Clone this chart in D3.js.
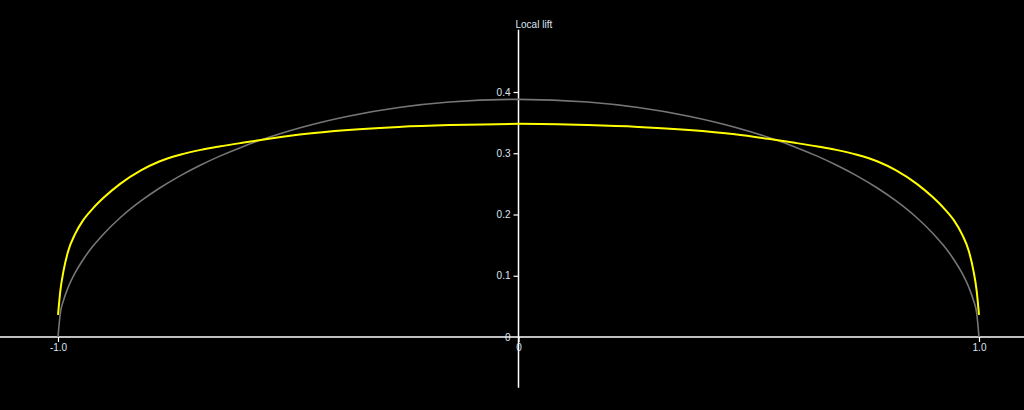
<!DOCTYPE html>
<html>
<head>
<meta charset="utf-8">
<script src="https://cdn.jsdelivr.net/npm/d3@7"></script>
<style>
  html, body { margin: 0; padding: 0; background: #000; }
  svg { display: block; }
  text { font-family: "Liberation Sans", Arial, sans-serif; }
</style>
</head>
<body>
<svg id="chart" width="1024" height="410"></svg>
<script>
// ---- data ----
const spanPositions = [-1, -0.995, -0.988, -0.978, -0.963, -0.946, -0.924, -0.9, -0.865, -0.82, -0.78, -0.735, -0.69, -0.65, -0.6, -0.56, -0.47, -0.37, -0.26, -0.15, 0,
  0.15, 0.26, 0.37, 0.47, 0.56, 0.6, 0.65, 0.69, 0.735, 0.78, 0.82, 0.865, 0.9, 0.924, 0.946, 0.963, 0.978, 0.988, 0.995, 1];
const ellipticLift = [0, 0.0388, 0.0599, 0.0809, 0.1046, 0.1258, 0.1484, 0.1691, 0.1947, 0.2221, 0.2428, 0.2631, 0.2808, 0.2949, 0.3104, 0.3215, 0.3425, 0.3605, 0.3747, 0.3836, 0.388,
  0.3836, 0.3747, 0.3605, 0.3425, 0.3215, 0.3104, 0.2949, 0.2808, 0.2631, 0.2428, 0.2221, 0.1947, 0.1691, 0.1484, 0.1258, 0.1046, 0.0809, 0.0599, 0.0388, 0];
const localLift = [0.036, 0.075, 0.108, 0.140, 0.168, 0.190, 0.210, 0.228, 0.250, 0.272, 0.2865, 0.2975, 0.3055, 0.311, 0.317, 0.3215, 0.331, 0.338, 0.343, 0.346, 0.348,
  0.346, 0.343, 0.338, 0.331, 0.3215, 0.317, 0.311, 0.3055, 0.2975, 0.2865, 0.272, 0.250, 0.228, 0.210, 0.190, 0.168, 0.140, 0.108, 0.075, 0.036];
const xTickValues = [-1, 0, 1];
const xTickLabels = ["-1.0", "0", "1.0"];
const yTickValues = [0, 0.1, 0.2, 0.3, 0.4];
const yTickLabels = ["0", "0.1", "0.2", "0.3", "0.4"];
const yAxisTitle = "Local lift";

// ---- layout ----
const svg = d3.select("#chart");
const W = 1024, H = 410;
svg.append("rect").attr("width", W).attr("height", H).attr("fill", "#000");

const x = d3.scaleLinear().domain([-1, 1]).range([58, 979]);
const y = d3.scaleLinear().domain([0, 0.4]).range([337, 92]);
const textColor = "#dce6f2";

// axis lines
svg.append("line")
  .attr("x1", 0).attr("x2", W).attr("y1", y(0)).attr("y2", y(0))
  .attr("stroke", "#fff").attr("stroke-width", 1.5);
svg.append("line")
  .attr("x1", x(0)).attr("x2", x(0)).attr("y1", y(0.5015)).attr("y2", y(-0.083))
  .attr("stroke", "#fff").attr("stroke-width", 1.5);

// x axis
const xAxis = d3.axisBottom(x).tickValues(xTickValues)
  .tickFormat((d, i) => xTickLabels[i]).tickSize(5).tickPadding(2);
const gx = svg.append("g").attr("transform", `translate(0,${y(0)})`).call(xAxis);
gx.select(".domain").remove();
gx.selectAll(".tick line").attr("stroke", "#fff").attr("stroke-width", 1.2);
gx.selectAll(".tick text").attr("fill", textColor).attr("font-size", 10)
  .attr("font-family", "'Liberation Sans', Arial, sans-serif");

// y axis
const yAxis = d3.axisLeft(y).tickValues(yTickValues)
  .tickFormat((d, i) => yTickLabels[i]).tickSize(5).tickPadding(3);
const gy = svg.append("g").attr("transform", `translate(${x(0)},0)`).call(yAxis);
gy.select(".domain").remove();
gy.selectAll(".tick line").attr("stroke", "#fff").attr("stroke-width", 1.2);
gy.selectAll(".tick text").attr("fill", textColor).attr("font-size", 10)
  .attr("font-family", "'Liberation Sans', Arial, sans-serif");
gy.selectAll(".tick").filter(d => d === 0).select("line").remove();

// axis title
svg.append("text")
  .attr("x", x(0) - 3).attr("y", 28)
  .attr("fill", textColor).attr("font-size", 10)
  .text(yAxisTitle);

// curves
const line = (vals) => d3.line()
  .x((d, i) => x(spanPositions[i]))
  .y(d => y(d))
  .curve(d3.curveMonotoneX)(vals);

svg.append("path").attr("d", line(ellipticLift))
  .attr("fill", "none").attr("stroke", "#767676").attr("stroke-width", 1.6);
svg.append("path").attr("d", line(localLift))
  .attr("fill", "none").attr("stroke", "#ffff00").attr("stroke-width", 2);
</script>
</body>
</html>
